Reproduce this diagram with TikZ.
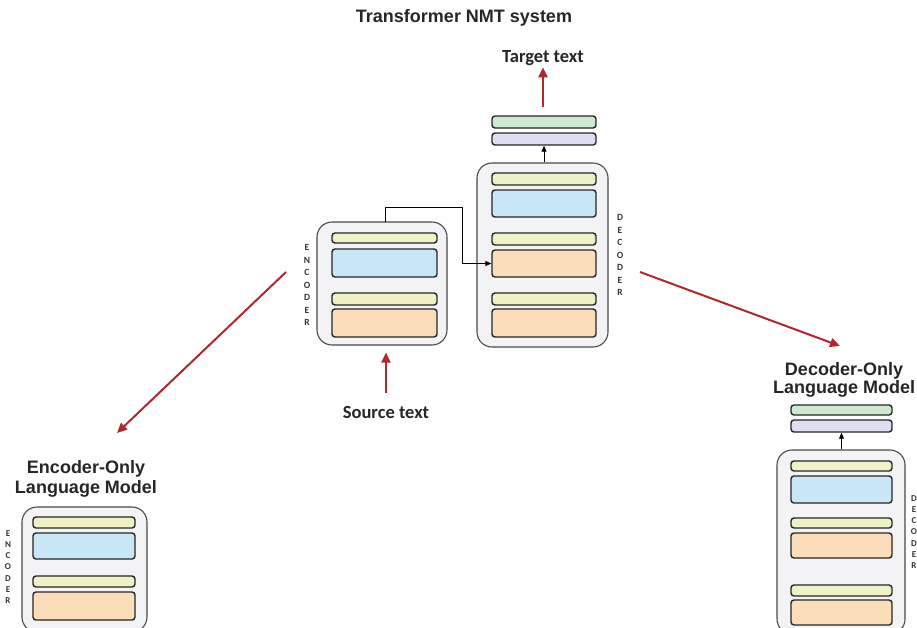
\documentclass[tikz,border=0pt]{standalone}
\usepackage{fontspec}
\setmainfont{Carlito}
\newfontfamily\headfont{Liberation Sans}
\usetikzlibrary{arrows.meta,fit}

\definecolor{frameline}{HTML}{4A4A4A}
\definecolor{framefill}{HTML}{F3F3F5}
\definecolor{normfill}{HTML}{EEF2C6}
\definecolor{attnfill}{HTML}{C7E6F6}
\definecolor{ffnfill}{HTML}{FBDDBA}
\definecolor{outfill}{HTML}{CDE9D0}
\definecolor{linfill}{HTML}{DDDEF1}
\definecolor{arrowred}{HTML}{B3262B}

\tikzset{
  stack/.style={draw=frameline, fill=framefill, line width=1.1pt, rounded corners=15pt, inner sep=0pt},
  layer/.style={draw=black!85, line width=1.4pt, rounded corners=3pt, inner sep=0pt},
  norm/.style={layer, fill=normfill},
  attn/.style={layer, fill=attnfill},
  ffn/.style={layer, fill=ffnfill},
  outp/.style={layer, fill=outfill},
  lin/.style={layer, fill=linfill},
  side/.style={font=\fontsize{9.5}{12.5}\selectfont\bfseries, text=black!80, align=center, inner sep=0pt},
  sidesm/.style={side, font=\fontsize{9}{11.3}\selectfont\bfseries},
  label/.style={font=\fontsize{18.5}{20}\selectfont\bfseries, text=black!85, inner sep=0pt, anchor=base},
  title/.style={font=\headfont\fontsize{18}{20}\selectfont\bfseries, text=black!85, inner sep=0pt, anchor=base},
  flow/.style={black, line width=0.9pt, -{Triangle[length=6pt,width=5pt]}},
  redarrow/.style={arrowred, line width=2pt, -{Triangle[length=10pt,width=9pt]}},
}

\begin{document}
\begin{tikzpicture}[x=1pt,y=-1pt]
\useasboundingbox (0,0) rectangle (917,627);

% ---------- Transformer NMT system ----------
\node[title] (title) at (464,22) {Transformer NMT system};
\node[label] (target) at (543,62) {Target text};
\node[label] (source) at (386,418) {Source text};

% encoder stack
\node[stack, fit={(317,222) (447,345)}] (enc) {};
\node[norm, fit={(332,233) (437,243)}] (enc1) {};
\node[attn, fit={(332,249) (437,277)}] (enc2) {};
\node[norm, fit={(332,293) (437,305)}] (enc3) {};
\node[ffn,  fit={(332,309) (437,337)}] (enc4) {};
\node[side] (enclab) at (307,285) {E\\N\\C\\O\\D\\E\\R};

% decoder stack
\node[stack, fit={(477,163) (608,347)}] (dec) {};
\node[norm, fit={(492,173) (596,185)}] (dec1) {};
\node[attn, fit={(492,190) (596,217)}] (dec2) {};
\node[norm, fit={(492,233) (596,245)}] (dec3) {};
\node[ffn,  fit={(492,250) (596,277)}] (dec4) {};
\node[norm, fit={(492,293) (596,305)}] (dec5) {};
\node[ffn,  fit={(492,309) (596,337)}] (dec6) {};
\node[side] (declab) at (620,255) {D\\E\\C\\O\\D\\E\\R};

% output head
\node[lin,  fit={(492,133) (596,145)}] (head1) {};
\node[outp, fit={(492,116) (596,128)}] (head2) {};

% connectors
\draw[flow] (dec.north -| head1.south) -- (head1.south);
\coordinate (tap) at (385,222);
\draw[flow] (tap) |- (462,207) |- (dec4.west);
\draw[redarrow] ([yshift=8pt]head2.north -| target.south) -- ([yshift=-2pt]target.south);
\draw[redarrow] ([yshift=13pt]source.north) -- ([yshift=-7pt]enc.south -| source.north);

% branches
\coordinate (lfrom) at (286,272);
\coordinate (lto) at (117,433);
\coordinate (rfrom) at (640,272);
\coordinate (rto) at (840,346);
\draw[redarrow] (lfrom) -- (lto);
\draw[redarrow] (rfrom) -- (rto);

% ---------- Encoder-only language model ----------
\node[title] (enctitle) at (86,473) {Encoder-Only};
\node[title] (enctitleb) at (86,493) {Language Model};
\node[stack, fit={(22,507) (147,632)}] (eo) {};
\node[norm, fit={(33,517) (135,528)}] (eo1) {};
\node[attn, fit={(33,533) (135,559)}] (eo2) {};
\node[norm, fit={(33,576) (135,587)}] (eo3) {};
\node[ffn,  fit={(33,592) (135,620)}] (eo4) {};
\node[sidesm] (eolab) at (8,567) {E\\N\\C\\O\\D\\E\\R};

% ---------- Decoder-only language model ----------
\node[title] (dectitle) at (844,375) {Decoder-Only};
\node[title] (dectitleb) at (844,393) {Language Model};
\node[stack, fit={(777,450) (905,634)}] (do) {};
\node[norm, fit={(791,461) (892,471)}] (do1) {};
\node[attn, fit={(791,476) (892,503)}] (do2) {};
\node[norm, fit={(791,518) (892,528)}] (do3) {};
\node[ffn,  fit={(791,533) (892,558)}] (do4) {};
\node[norm, fit={(791,585) (892,596)}] (do5) {};
\node[ffn,  fit={(791,600) (892,625)}] (do6) {};
\node[sidesm] (dolab) at (914,532) {D\\E\\C\\O\\D\\E\\R};
\node[lin,  fit={(791,420) (892,432)}] (dohead1) {};
\node[outp, fit={(791,405) (892,415)}] (dohead2) {};
\draw[flow] (do1.north |- do.north) -- (dohead1.south);

\end{tikzpicture}
\end{document}
